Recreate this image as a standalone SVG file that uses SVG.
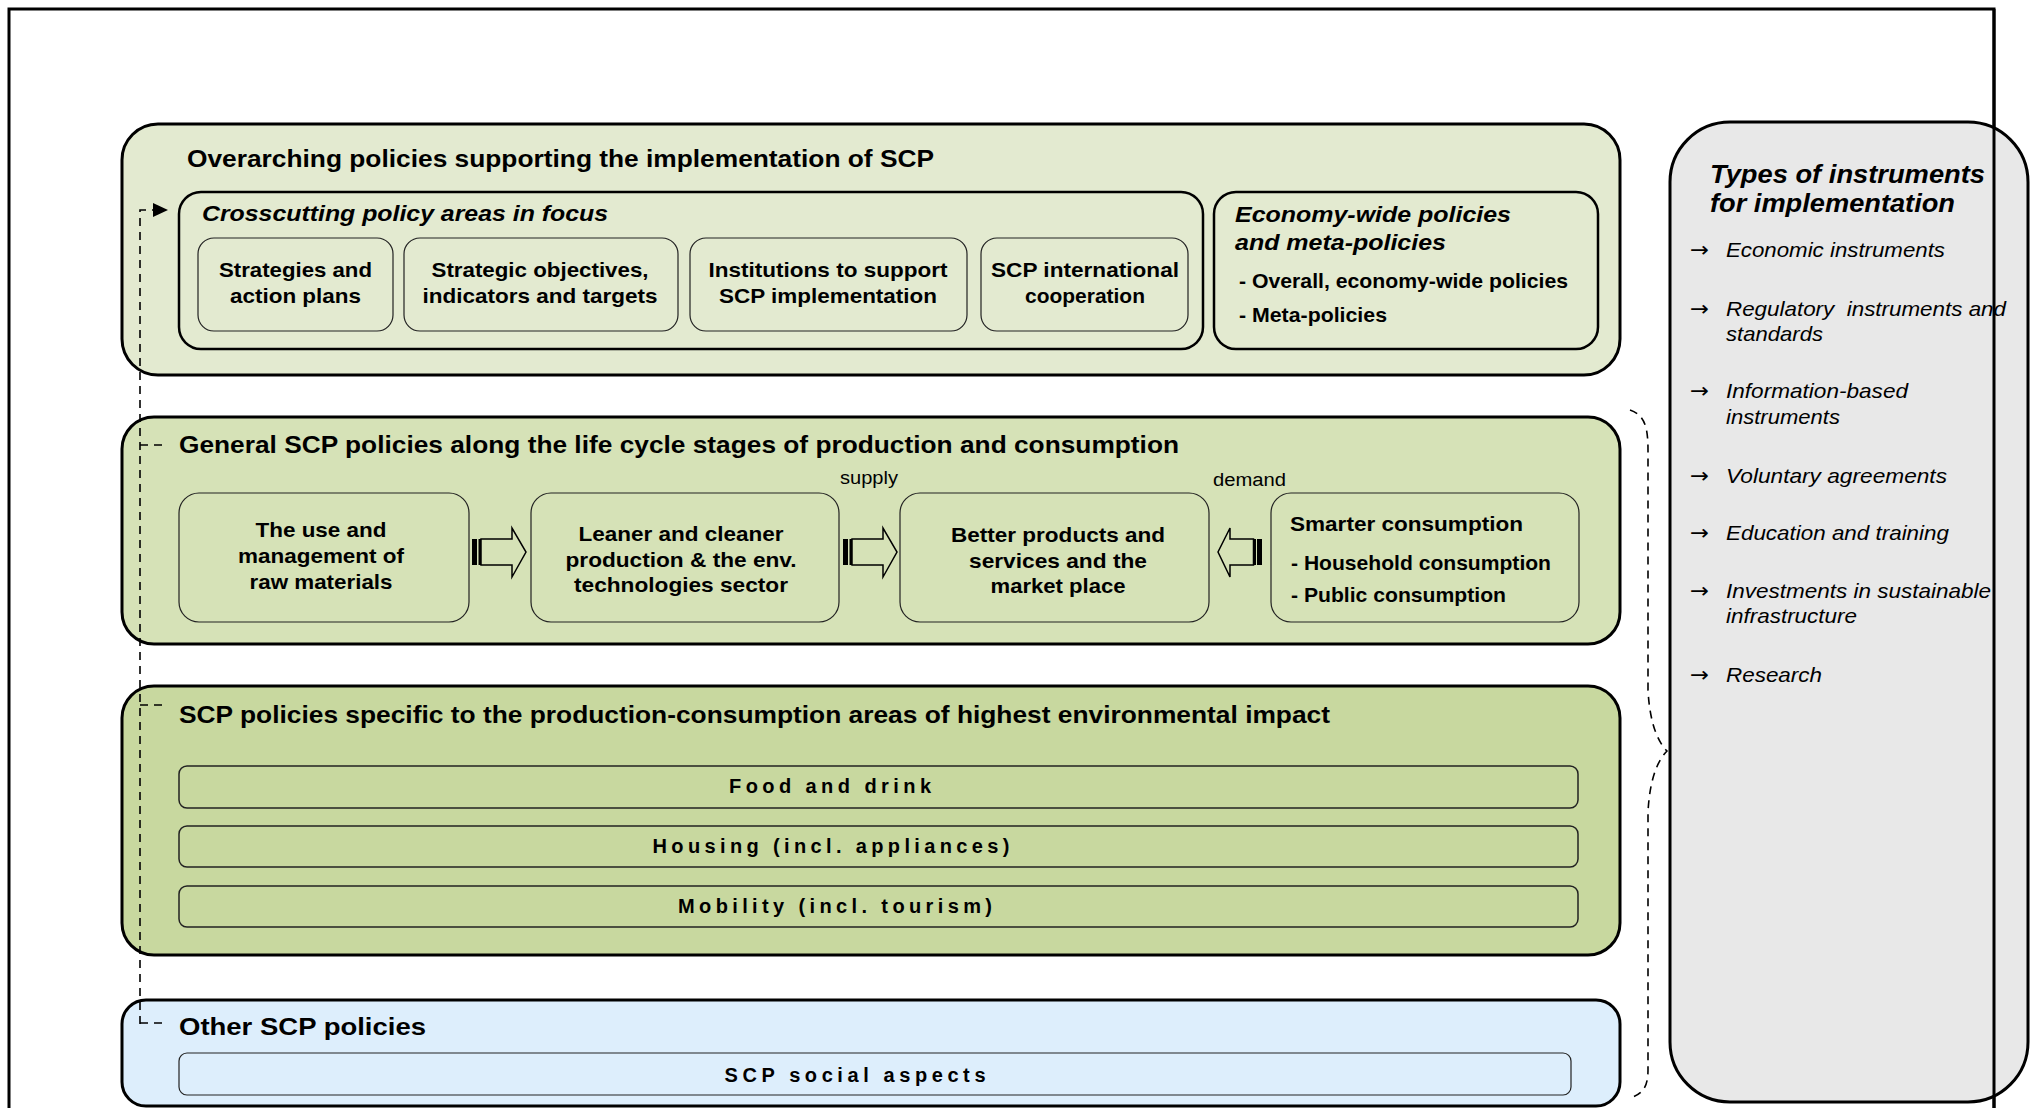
<svg xmlns="http://www.w3.org/2000/svg" width="2032" height="1108" viewBox="0 0 2032 1108">
<style>
text{font-family:"Liberation Sans",Arial,sans-serif;fill:#000}
.t{font-size:24px;font-weight:bold}
.ti{font-size:22px;font-weight:bold;font-style:italic}
.b{font-size:21px;font-weight:bold}
.m{text-anchor:middle}
.sp{font-size:20px;font-weight:bold;text-anchor:middle}
.it{font-size:21px;font-style:italic}
.ar{font-size:21px;font-family:"DejaVu Sans","Liberation Sans",sans-serif}
.sm{font-size:18px;text-anchor:middle}
.big{stroke:#000;stroke-width:3}
.mid{stroke:#000;stroke-width:2.5}
.in{stroke:#222;stroke-width:1.2}
.dash{fill:none;stroke:#000;stroke-width:1.6;stroke-dasharray:8 6}
.barr{stroke:#000;stroke-width:1.5}
</style>

<rect x="9" y="9" width="1985" height="1120" fill="#fff" stroke="#000" stroke-width="3"/>

<g id="overarching">
  <rect x="122" y="124" width="1498" height="251" rx="36" fill="#e3ead0" class="big"/>
  <text class="t" x="187" y="167" textLength="747" lengthAdjust="spacingAndGlyphs">Overarching policies supporting the implementation of SCP</text>
</g>
<g id="crosscutting">
  <rect x="179" y="192" width="1024" height="157" rx="22" fill="#e3ead0" class="mid"/>
  <text class="ti" x="202" y="221" textLength="406" lengthAdjust="spacingAndGlyphs">Crosscutting policy areas in focus</text>
</g>
<g id="strategies">
  <rect x="198" y="238" width="195" height="93" rx="16" fill="#e3ead0" class="in"/>
  <text class="b m" x="295.5" y="277" textLength="153" lengthAdjust="spacingAndGlyphs">Strategies and</text>
  <text class="b m" x="295.5" y="303" textLength="131" lengthAdjust="spacingAndGlyphs">action plans</text>
</g>
<g id="objectives">
  <rect x="404" y="238" width="274" height="93" rx="16" fill="#e3ead0" class="in"/>
  <text class="b m" x="540" y="277" textLength="217" lengthAdjust="spacingAndGlyphs">Strategic objectives,</text>
  <text class="b m" x="540" y="303" textLength="235" lengthAdjust="spacingAndGlyphs">indicators and targets</text>
</g>
<g id="institutions">
  <rect x="690" y="238" width="277" height="93" rx="16" fill="#e3ead0" class="in"/>
  <text class="b m" x="828" y="277" textLength="239" lengthAdjust="spacingAndGlyphs">Institutions to support</text>
  <text class="b m" x="828" y="303" textLength="218" lengthAdjust="spacingAndGlyphs">SCP implementation</text>
</g>
<g id="international">
  <rect x="981" y="238" width="207" height="93" rx="16" fill="#e3ead0" class="in"/>
  <text class="b m" x="1085" y="277" textLength="188" lengthAdjust="spacingAndGlyphs">SCP international</text>
  <text class="b m" x="1085" y="303" textLength="120" lengthAdjust="spacingAndGlyphs">cooperation</text>
</g>
<g id="economy-wide">
  <rect x="1214" y="192" width="384" height="157" rx="22" fill="#e3ead0" class="mid"/>
  <text class="ti" x="1235" y="222" textLength="276" lengthAdjust="spacingAndGlyphs">Economy-wide policies</text>
  <text class="ti" x="1235" y="250" textLength="211" lengthAdjust="spacingAndGlyphs">and meta-policies</text>
  <text class="b" x="1239" y="288" font-size="20" textLength="329" lengthAdjust="spacingAndGlyphs">- Overall, economy-wide policies</text>
  <text class="b" x="1239" y="322" font-size="20" textLength="148" lengthAdjust="spacingAndGlyphs">- Meta-policies</text>
</g>

<g id="general">
  <rect x="122" y="417" width="1498" height="227" rx="32" fill="#d6e2b7" class="big"/>
  <text class="t" x="179" y="453" textLength="1000" lengthAdjust="spacingAndGlyphs">General SCP policies along the life cycle stages of production and consumption</text>
  <text class="sm" x="869" y="484" textLength="58" lengthAdjust="spacingAndGlyphs">supply</text>
  <text class="sm" x="1249.5" y="486" textLength="73" lengthAdjust="spacingAndGlyphs">demand</text>
</g>
<g id="raw-materials">
  <rect x="179" y="493" width="290" height="129" rx="20" fill="#d6e2b7" class="in"/>
  <text class="b m" x="321" y="537" textLength="131" lengthAdjust="spacingAndGlyphs">The use and</text>
  <text class="b m" x="321" y="563" textLength="166" lengthAdjust="spacingAndGlyphs">management of</text>
  <text class="b m" x="321" y="589" textLength="143" lengthAdjust="spacingAndGlyphs">raw materials</text>
</g>
<g id="production">
  <rect x="531" y="493" width="308" height="129" rx="20" fill="#d6e2b7" class="in"/>
  <text class="b m" x="681" y="541" textLength="205" lengthAdjust="spacingAndGlyphs">Leaner and cleaner</text>
  <text class="b m" x="681" y="567" textLength="231" lengthAdjust="spacingAndGlyphs">production &amp; the env.</text>
  <text class="b m" x="681" y="592" textLength="214" lengthAdjust="spacingAndGlyphs">technologies sector</text>
</g>
<g id="products">
  <rect x="900" y="493" width="309" height="129" rx="20" fill="#d6e2b7" class="in"/>
  <text class="b m" x="1058" y="542" textLength="214" lengthAdjust="spacingAndGlyphs">Better products and</text>
  <text class="b m" x="1058" y="568" textLength="178" lengthAdjust="spacingAndGlyphs">services and the</text>
  <text class="b m" x="1058" y="593" textLength="135" lengthAdjust="spacingAndGlyphs">market place</text>
</g>
<g id="consumption">
  <rect x="1271" y="493" width="308" height="129" rx="20" fill="#d6e2b7" class="in"/>
  <text class="b" x="1290" y="531" textLength="233" lengthAdjust="spacingAndGlyphs">Smarter consumption</text>
  <text class="b" x="1291" y="570" textLength="260" lengthAdjust="spacingAndGlyphs">- Household consumption</text>
  <text class="b" x="1291" y="602" textLength="215" lengthAdjust="spacingAndGlyphs">- Public consumption</text>
</g>

<g id="specific">
  <rect x="122" y="686" width="1498" height="269" rx="32" fill="#c8d89f" class="big"/>
  <text class="t" x="179" y="723" textLength="1151" lengthAdjust="spacingAndGlyphs">SCP policies specific to the production-consumption areas of highest environmental impact</text>
</g>
<g id="food">
  <rect x="179" y="766" width="1399" height="42" rx="8" fill="#c8d89f" stroke="#222" stroke-width="1.5"/>
  <text class="sp" x="830" y="793" textLength="202" lengthAdjust="spacing">Food and drink</text>
</g>
<g id="housing">
  <rect x="179" y="826" width="1399" height="41" rx="8" fill="#c8d89f" stroke="#222" stroke-width="1.5"/>
  <text class="sp" x="831" y="853" textLength="357" lengthAdjust="spacing">Housing (incl. appliances)</text>
</g>
<g id="mobility">
  <rect x="179" y="886" width="1399" height="41" rx="8" fill="#c8d89f" stroke="#222" stroke-width="1.5"/>
  <text class="sp" x="835" y="913" textLength="314" lengthAdjust="spacing">Mobility (incl. tourism)</text>
</g>

<g id="other">
  <rect x="122" y="1000" width="1498" height="106" rx="24" fill="#ddeefc" class="big"/>
  <text class="t" x="179" y="1035" font-size="25" textLength="247" lengthAdjust="spacingAndGlyphs">Other SCP policies</text>
</g>
<g id="social">
  <rect x="179" y="1053" width="1392" height="42" rx="8" fill="#ddeefc" stroke="#222" stroke-width="1.2"/>
  <text class="sp" x="855" y="1082" textLength="261" lengthAdjust="spacing">SCP social aspects</text>
</g>

<g id="instruments">
  <rect x="1670" y="122" width="358" height="980" rx="60" fill="#e8e8e8" stroke="#000" stroke-width="3"/>
  <text x="1710" y="183" font-size="26" font-weight="bold" font-style="italic" textLength="275" lengthAdjust="spacingAndGlyphs">Types of instruments</text>
  <text x="1710" y="212" font-size="26" font-weight="bold" font-style="italic" textLength="245" lengthAdjust="spacingAndGlyphs">for implementation</text>
  <text class="ar" x="1690" y="257" textLength="19" lengthAdjust="spacingAndGlyphs">→</text>
  <text class="it" x="1726" y="257" textLength="219" lengthAdjust="spacingAndGlyphs">Economic instruments</text>
  <text class="ar" x="1690" y="316" textLength="19" lengthAdjust="spacingAndGlyphs">→</text>
  <text class="it" x="1726" y="316" xml:space="preserve" textLength="280" lengthAdjust="spacingAndGlyphs">Regulatory  instruments and</text>
  <text class="it" x="1726" y="341" textLength="97" lengthAdjust="spacingAndGlyphs">standards</text>
  <text class="ar" x="1690" y="398" textLength="19" lengthAdjust="spacingAndGlyphs">→</text>
  <text class="it" x="1726" y="398" textLength="182" lengthAdjust="spacingAndGlyphs">Information-based</text>
  <text class="it" x="1726" y="424" textLength="114" lengthAdjust="spacingAndGlyphs">instruments</text>
  <text class="ar" x="1690" y="483" textLength="19" lengthAdjust="spacingAndGlyphs">→</text>
  <text class="it" x="1726" y="483" textLength="221" lengthAdjust="spacingAndGlyphs">Voluntary agreements</text>
  <text class="ar" x="1690" y="540" textLength="19" lengthAdjust="spacingAndGlyphs">→</text>
  <text class="it" x="1726" y="540" textLength="223" lengthAdjust="spacingAndGlyphs">Education and training</text>
  <text class="ar" x="1690" y="598" textLength="19" lengthAdjust="spacingAndGlyphs">→</text>
  <text class="it" x="1726" y="598" textLength="265" lengthAdjust="spacingAndGlyphs">Investments in sustainable</text>
  <text class="it" x="1726" y="623" textLength="131" lengthAdjust="spacingAndGlyphs">infrastructure</text>
  <text class="ar" x="1690" y="682" textLength="19" lengthAdjust="spacingAndGlyphs">→</text>
  <text class="it" x="1726" y="682" textLength="96" lengthAdjust="spacingAndGlyphs">Research</text>
</g>

<line x1="1994" y1="9" x2="1994" y2="1108" stroke="#000" stroke-width="3"/>

<g id="connectors">
  <g id="block-arrows">
    <path d="M481 539 H512 V528 L526 552 L512 577 V565 H481 Z" fill="#d6e2b7" class="barr"/>
    <rect x="472" y="539" width="5" height="26"/>
    <rect x="478.5" y="539" width="2.5" height="26"/>
    <path d="M852 539 H883 V528 L897 552 L883 577 V565 H852 Z" fill="#d6e2b7" class="barr"/>
    <rect x="843" y="539" width="5" height="26"/>
    <rect x="849.5" y="539" width="2.5" height="26"/>
    <path d="M1253.5 539 H1230 V528 L1218 552 L1230 577 V565 H1253.5 Z" fill="#d6e2b7" class="barr"/>
    <rect x="1257" y="539" width="5" height="26"/>
    <rect x="1253.5" y="539" width="2.5" height="26"/>
  </g>
  <path class="dash" d="M140 1024 V210 H154"/>
  <polygon points="153,203 168,210 153,217" fill="#000"/>
  <path class="dash" d="M140 445 H166" stroke-dasharray="7 5"/>
  <path class="dash" d="M140 705 H166" stroke-dasharray="7 5"/>
  <path class="dash" d="M140 1023 H166" stroke-dasharray="7 5"/>
  <path class="dash" d="M1630 410 C1645 415 1648 428 1648 450 L1648 690 C1650 728 1660 744 1667 751 C1660 758 1650 774 1648 812 L1648 1070 C1648 1088 1642 1094 1630 1098"/>
</g>
</svg>
